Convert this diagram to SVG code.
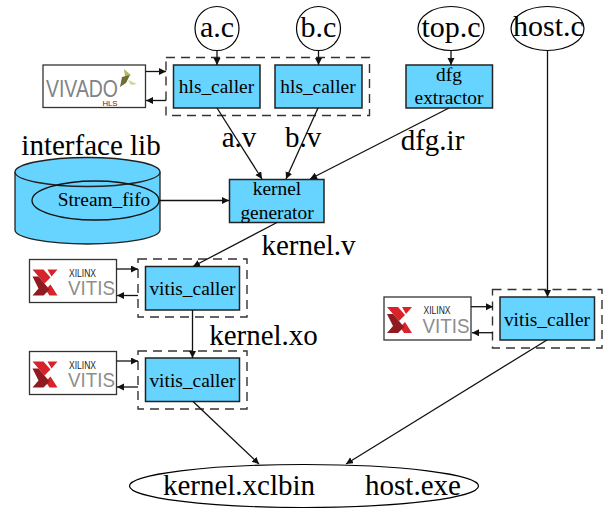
<svg xmlns="http://www.w3.org/2000/svg" width="605" height="508" viewBox="0 0 605 508">
<style>
text{font-family:"Liberation Serif","Times New Roman",serif;fill:#000;text-anchor:middle}
.big{font-size:29px}
.top{font-size:30px}
.mid{font-size:19.4px}
.box{fill:#66d4ff;stroke:#222;stroke-width:1.5}
.oval{fill:#fff;stroke:#000;stroke-width:1.2}
.dash{fill:none;stroke:#333;stroke-width:1.4;stroke-dasharray:9 6}
.logo{fill:#fff;stroke:#333;stroke-width:1.3}
.cyl{fill:#66d4ff;stroke:#222;stroke-width:1.3}
.c{fill:none;stroke:#111;stroke-width:1.3;marker-end:url(#arr)}
.sans{font-family:"Liberation Sans",Arial,sans-serif}
.xl{font-size:10px;font-family:"Liberation Sans",Arial,sans-serif;fill:#222}
.vt{font-size:21px;font-family:"Liberation Sans",Arial,sans-serif;fill:#8e8e8e}
.r1{fill:#d9232a}.r2{fill:#8f1a1f}
</style>
<defs>
<marker id="arr" markerWidth="8" markerHeight="8" refX="7" refY="3.5" orient="auto" markerUnits="userSpaceOnUse"><path d="M0 0L7 3.5L0 7z" fill="#111"/></marker>
</defs>
<rect width="605" height="508" fill="#fff"/>

<g id="dashed-groups">
<rect class="dash" x="166" y="57.5" width="203.5" height="58"/>
<rect class="dash" x="138" y="259" width="109" height="58"/>
<rect class="dash" x="138" y="351" width="109" height="58"/>
<rect class="dash" x="492.5" y="289.5" width="109.5" height="58.5"/>
</g>

<g id="node-a-c"><circle class="oval" cx="217" cy="28.5" r="22"/><text class="top" x="217" y="37">a.c</text></g>
<g id="node-b-c"><circle class="oval" cx="318.5" cy="28.5" r="22"/><text class="top" x="318.5" y="37">b.c</text></g>
<g id="node-top-c"><ellipse class="oval" cx="451" cy="28.5" rx="33" ry="22"/><text class="top" x="451" y="37">top.c</text></g>
<g id="node-host-c"><ellipse class="oval" cx="547.5" cy="28.5" rx="36.5" ry="22"/><text class="top" x="548.5" y="36">host.c</text></g>

<g id="node-vivado">
<rect class="logo" x="43" y="65" width="102.5" height="42.5"/>
<text class="sans" x="82" y="96.500" style="font-size:23px;fill:#808285" textLength="72" lengthAdjust="spacingAndGlyphs">VIVADO</text>
<text class="sans" x="110" y="105.500" style="font-size:7px;fill:#333" textLength="15" lengthAdjust="spacingAndGlyphs">HLS</text>
<path d="M124 69L131 75L125 77z" fill="#b6b85e"/><path d="M120 87L122 77L130 75L126 83z" fill="#6d6d35"/><path d="M128 80L137 84L131 85z" fill="#d3d492"/>
</g>

<g id="node-hls-caller-a"><rect class="box" x="173.5" y="65" width="86.5" height="43"/><text class="mid" x="216.500" y="93">hls_caller</text></g>
<g id="node-hls-caller-b"><rect class="box" x="275" y="65" width="87" height="43"/><text class="mid" x="318" y="93">hls_caller</text></g>
<g id="node-dfg-extractor"><rect class="box" x="406" y="65" width="86.5" height="43"/><text class="mid" x="449" y="81">dfg</text><text class="mid" x="449" y="104">extractor</text></g>

<g id="node-interface-lib">
<path class="cyl" d="M15 172V230A72.500 14 0 0 0 160 230V172"/>
<ellipse class="cyl" cx="87.500" cy="172" rx="72.500" ry="14.500"/>
<text class="big" x="91" y="155">interface lib</text>
</g>
<g id="node-stream-fifo"><ellipse cx="95.500" cy="200.500" rx="63.500" ry="19.500" fill="none" stroke="#111" stroke-width="1.300"/><text class="mid" x="104" y="206">Stream_fifo</text></g>

<g id="node-kernel-generator"><rect class="box" x="229.500" y="179.500" width="94.500" height="43"/><text class="mid" x="277" y="195">kernel</text><text class="mid" x="277" y="219">generator</text></g>

<g id="node-vitis-logo-1" transform="translate(29.500 259.500)">
<rect class="logo" width="87" height="43"/>
<path class="r1" d="M3 10H14L21 18L15 24ZM18 10H28L22 17ZM16 30L21 25L28 36H20Z"/><path class="r2" d="M3 17H9L15 24L9 29ZM9 29L15 24L20 30L14 36H3Z"/>
<text class="xl" x="53" y="17" textLength="27" lengthAdjust="spacingAndGlyphs">XILINX</text><text class="vt" x="62" y="35.500" textLength="47" lengthAdjust="spacingAndGlyphs">VITIS</text>
</g>
<g id="node-vitis-caller-1"><rect class="box" x="145.500" y="266.500" width="94" height="43.500"/><text class="mid" x="192.500" y="295">vitis_caller</text></g>

<g id="node-vitis-logo-2" transform="translate(29.500 351.500)">
<rect class="logo" width="87" height="43"/>
<path class="r1" d="M3 10H14L21 18L15 24ZM18 10H28L22 17ZM16 30L21 25L28 36H20Z"/><path class="r2" d="M3 17H9L15 24L9 29ZM9 29L15 24L20 30L14 36H3Z"/>
<text class="xl" x="53" y="17" textLength="27" lengthAdjust="spacingAndGlyphs">XILINX</text><text class="vt" x="62" y="35.500" textLength="47" lengthAdjust="spacingAndGlyphs">VITIS</text>
</g>
<g id="node-vitis-caller-2"><rect class="box" x="145.500" y="358" width="94" height="43.500"/><text class="mid" x="192.500" y="387">vitis_caller</text></g>

<g id="node-vitis-logo-3" transform="translate(384 297)">
<rect class="logo" width="87" height="43"/>
<path class="r1" d="M3 10H14L21 18L15 24ZM18 10H28L22 17ZM16 30L21 25L28 36H20Z"/><path class="r2" d="M3 17H9L15 24L9 29ZM9 29L15 24L20 30L14 36H3Z"/>
<text class="xl" x="53" y="17" textLength="27" lengthAdjust="spacingAndGlyphs">XILINX</text><text class="vt" x="62" y="35.500" textLength="47" lengthAdjust="spacingAndGlyphs">VITIS</text>
</g>
<g id="node-vitis-caller-3"><rect class="box" x="500" y="297" width="94.500" height="43"/><text class="mid" x="547" y="326">vitis_caller</text></g>

<g id="node-output"><ellipse class="oval" cx="304" cy="486" rx="174.500" ry="21.500"/><text class="big" x="239" y="495">kernel.xclbin</text><text class="big" x="413" y="495">host.exe</text></g>

<g id="connectors">
<path class="c" d="M217 50.500V65"/>
<path class="c" d="M318.500 50.500V65"/>
<path class="c" d="M451 50.500V65"/>
<path class="c" d="M145.500 71.500H166"/>
<path class="c" d="M166 100.500H146"/>
<path class="c" d="M217 108L262 179"/>
<path class="c" d="M318 108L286 179"/>
<path class="c" d="M449 108L310 179"/>
<path class="c" d="M547.500 50.500V297"/>
<path class="c" d="M159 200.500H229"/>
<path class="c" d="M277 222.500L193 266.500"/>
<path class="c" d="M116.500 269H138"/>
<path class="c" d="M138 295.500H117"/>
<path class="c" d="M192.500 310V358"/>
<path class="c" d="M116.500 361H138"/>
<path class="c" d="M138 387H117"/>
<path class="c" d="M193 401.500L259 464"/>
<path class="c" d="M471 306.700H493"/>
<path class="c" d="M493 332.700H472"/>
<path class="c" d="M547 340L346 464"/>
</g>

<g id="edge-labels">
<text class="big" x="239" y="147">a.v</text>
<text class="big" x="303" y="147">b.v</text>
<text class="big" x="432.500" y="150">dfg.ir</text>
<text class="big" x="308.500" y="255">kernel.v</text>
<text class="big" x="263.500" y="345">kernel.xo</text>
</g>
</svg>
